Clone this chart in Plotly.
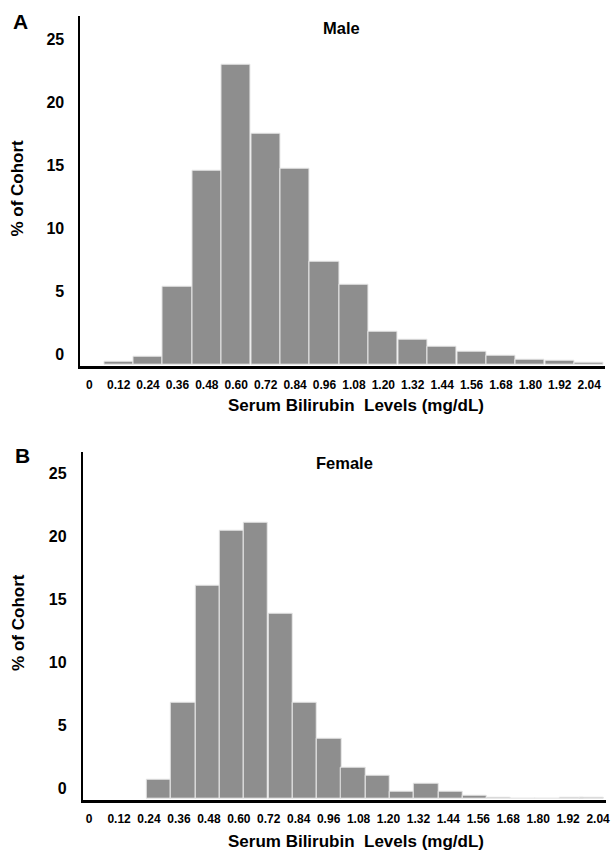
import plotly.graph_objects as go

W, H = 614, 851

# ---------------- data ----------------
x_tick_vals = [0, 0.12, 0.24, 0.36, 0.48, 0.60, 0.72, 0.84, 0.96, 1.08,
               1.20, 1.32, 1.44, 1.56, 1.68, 1.80, 1.92, 2.04]
x_tick_text = ["0", "0.12", "0.24", "0.36", "0.48", "0.60", "0.72", "0.84", "0.96",
               "1.08", "1.20", "1.32", "1.44", "1.56", "1.68", "1.80", "1.92", "2.04"]

male_bins = [0.12, 0.24, 0.36, 0.48, 0.60, 0.72, 0.84, 0.96, 1.08,
             1.20, 1.32, 1.44, 1.56, 1.68, 1.80, 1.92, 2.04]
male_pct = [0.2, 0.62, 6.17, 15.36, 23.83, 18.29, 15.54, 8.13, 6.37,
            2.60, 1.94, 1.41, 1.02, 0.71, 0.41, 0.30, 0.17]

female_bins = [0.28, 0.377, 0.475, 0.572, 0.669, 0.767, 0.865, 0.962, 1.059, 1.156,
               1.254, 1.351, 1.449, 1.546, 1.642, 1.740, 1.837, 1.935, 2.015]
female_pct = [1.52, 7.60, 16.92, 21.23, 21.87, 14.67, 7.60, 4.71, 2.46, 1.83,
              0.57, 1.19, 0.56, 0.22, 0.10, 0.0, 0.0, 0.10, 0.10]

y_tick_labels = ["0", "5", "10", "15", "20", "25"]
y_tick_nums = [0, 5, 10, 15, 20, 25]
Y_LABEL_SHIFT = 0.81   # the printed labels sit slightly above their true values

# ---------------- style ----------------
FONT = "Liberation Sans, Arial, sans-serif"
BAR = "#8e8e8e"
EDGE = "#e8e8e8"


def fx(p):
    return p / W


def fy(p):
    return 1 - p / H


fig = go.Figure()
fig.add_trace(go.Bar(x=male_bins, y=male_pct, width=0.119, marker=dict(color=BAR, line=dict(color=EDGE, width=1)),
                     xaxis="x", yaxis="y", showlegend=False))
fig.add_trace(go.Bar(x=female_bins, y=female_pct, width=0.0975, marker=dict(color=BAR, line=dict(color=EDGE, width=1)),
                     xaxis="x2", yaxis="y2", showlegend=False))

yvals = [v + Y_LABEL_SHIFT for v in y_tick_nums]

xcommon = dict(showline=True, linecolor="black", linewidth=3, showgrid=False, zeroline=False,
               tickmode="array", tickvals=x_tick_vals, ticktext=x_tick_text, ticks="",
               tickfont=dict(family=FONT, size=12, color="black", weight="bold"),
               ticklabelstandoff=6, fixedrange=True)
ycommon = dict(showline=True, linecolor="black", linewidth=2, showgrid=False, zeroline=False,
               tickmode="array", tickvals=yvals, ticktext=y_tick_labels, ticks="",
               tickfont=dict(family=FONT, size=16, color="black", weight="bold"),
               ticklabelstandoff=11, fixedrange=True)

fig.update_layout(
    width=W, height=H,
    margin=dict(l=0, r=0, t=0, b=0),
    paper_bgcolor="white", plot_bgcolor="white",
    bargap=0,
    xaxis=dict(domain=[fx(81), fx(609)], range=[-0.0357, 2.1046], anchor="y", **xcommon),
    yaxis=dict(domain=[fy(366), fy(15.7)], range=[-0.12, 27.68], anchor="x", **ycommon),
    xaxis2=dict(domain=[fx(83.3), fx(610)], range=[-0.0255, 2.072], anchor="y2", **xcommon),
    yaxis2=dict(domain=[fy(800), fy(451.7)], range=[-0.12, 27.52], anchor="x2", **ycommon),
)

def ann(text, x, y, size, angle=0):
    fig.add_annotation(text=text, x=fx(x), y=fy(y), xref="paper", yref="paper",
                       showarrow=False, xanchor="center", yanchor="middle", textangle=angle,
                       font=dict(family=FONT, size=size, color="black", weight="bold"))

ann("A", 21, 21, 21)
ann("B", 22.5, 455.3, 21)
ann("Male", 344, 28.3, 16.5)
ann("Female", 346.3, 462.7, 16.5)
ann("% of Cohort", 16.7, 188, 17, -90)
ann("% of Cohort", 18, 622, 17, -90)
ann("Serum Bilirubin\u00a0 Levels (mg/dL)", 358, 405.7, 17)
ann("Serum Bilirubin\u00a0 Levels (mg/dL)", 358, 841.7, 17)

fig.write_html("out.html", config={"displayModeBar": False},
               post_script="document.body.style.margin='0px';document.body.style.overflow='hidden';")
